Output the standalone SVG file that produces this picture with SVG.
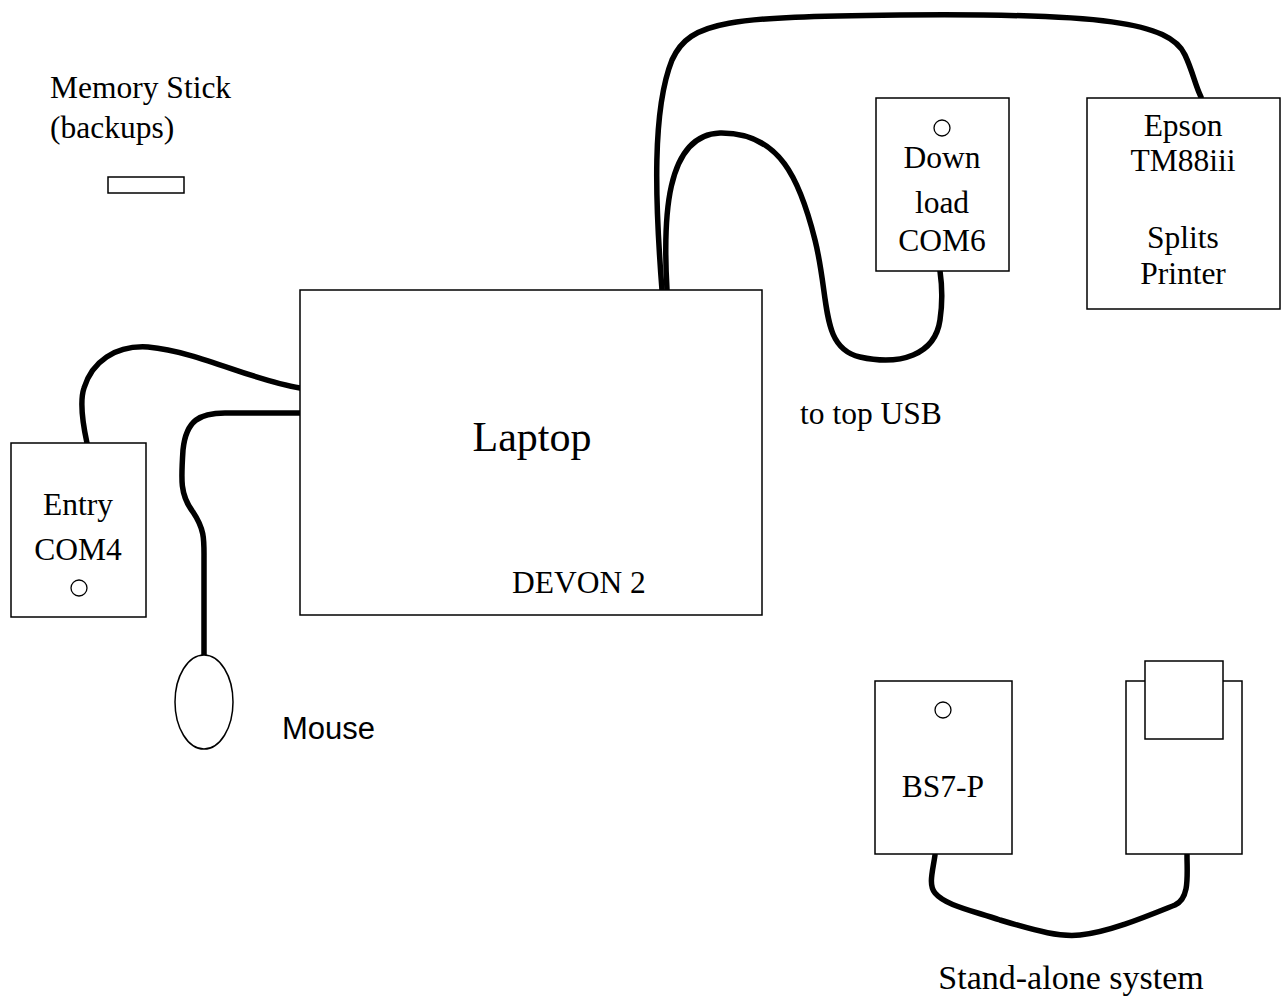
<svg xmlns="http://www.w3.org/2000/svg" width="1281" height="996" viewBox="0 0 1281 996">
<style>
.box{fill:#fff;stroke:#000;stroke-width:1.5}
.led{fill:none;stroke:#000;stroke-width:1.3}
.cable{fill:none;stroke:#000;stroke-width:5.5;stroke-linecap:round;stroke-linejoin:round}
.t{font-family:"Liberation Serif","Times New Roman",serif;font-size:31.5px;fill:#000}
.m{text-anchor:middle}
.s{font-family:"Liberation Sans",Arial,sans-serif;font-size:31px;fill:#000}
</style>
<rect width="1281" height="996" fill="#fff"/>
<g id="connectors">
<path class="cable" d="M 662,290 C 655,200 652,110 672,60 C 690,20 730,17 900,15 C 1100,13 1170,22 1185,55 C 1193,72 1195,85 1201,97"/>
<path class="cable" d="M 667,290 C 663,220 665,135 720,133 C 780,132 800,180 815,240 C 830,300 820,348 860,357 C 900,366 935,355 940,320 C 943,300 942,285 940,271"/>
<path class="cable" d="M 87,443 C 82,420 80,400 84,388 C 92,362 115,345 148,347 C 200,352 250,380 300,388"/>
<path class="cable" d="M 300,413 L 225,413 C 200,413 186,420 183,450 C 181,480 180,495 193,512 C 205,530 204,540 204,560 L 204,655"/>
<path class="cable" d="M 935,855 C 933,870 928,885 935,893 C 945,905 970,910 1000,920 C 1040,932 1060,937 1080,935 C 1110,932 1150,915 1175,905 C 1190,898 1187,875 1187,855"/>
</g>
<g id="memory-stick">
<text class="t" x="50" y="98">Memory Stick</text>
<text class="t" x="50" y="138">(backups)</text>
<rect class="box" x="108" y="177" width="76" height="16"/>
</g>
<g id="laptop">
<rect class="box" x="300" y="290" width="462" height="325"/>
<text class="t m" x="532" y="451" style="font-size:42px">Laptop</text>
<text class="t" x="512" y="593">DEVON 2</text>
</g>
<g id="entry">
<rect class="box" x="11" y="443" width="135" height="174"/>
<text class="t m" x="78" y="515">Entry</text>
<text class="t m" x="78" y="560">COM4</text>
<circle class="led" cx="79" cy="588" r="8"/>
</g>
<g id="mouse">
<ellipse class="box" cx="204" cy="702" rx="29" ry="47"/>
<text class="s" x="282" y="739">Mouse</text>
</g>
<g id="download">
<rect class="box" x="876" y="98" width="133" height="173"/>
<circle class="led" cx="942" cy="128" r="8"/>
<text class="t m" x="942" y="168">Down</text>
<text class="t m" x="942" y="213">load</text>
<text class="t m" x="942" y="251">COM6</text>
</g>
<g id="epson">
<rect class="box" x="1087" y="98" width="193" height="211"/>
<text class="t m" x="1183" y="136">Epson</text>
<text class="t m" x="1183" y="171">TM88iii</text>
<text class="t m" x="1183" y="248">Splits</text>
<text class="t m" x="1183" y="284">Printer</text>
</g>
<text class="t" x="800" y="424">to top USB</text>
<g id="bs7p">
<rect class="box" x="875" y="681" width="137" height="173"/>
<circle class="led" cx="943" cy="710" r="8"/>
<text class="t m" x="943" y="797">BS7-P</text>
</g>
<g id="standalone-printer">
<rect class="box" x="1126" y="681" width="116" height="173"/>
<rect class="box" x="1145" y="661" width="78" height="78"/>
</g>
<text class="t m" x="1071" y="989" style="font-size:34px">Stand-alone system</text>
</svg>
